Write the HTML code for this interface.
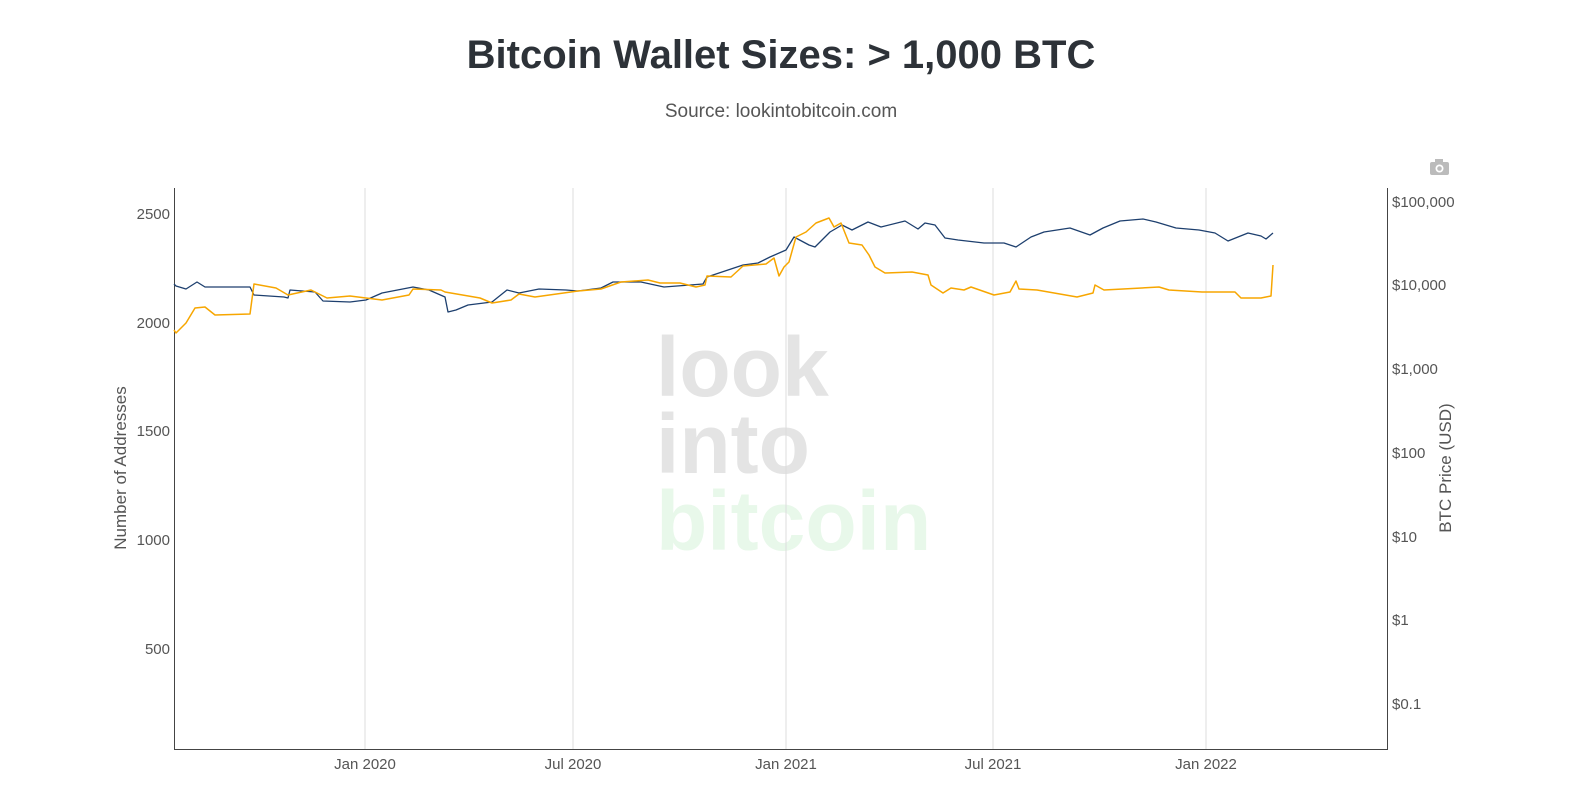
<!DOCTYPE html>
<html><head><meta charset="utf-8"><style>
body{margin:0;background:#fff;width:1583px;height:806px;overflow:hidden}
svg{font-family:"Liberation Sans",sans-serif}
</style></head><body>
<svg width="1583" height="806" viewBox="0 0 1583 806">
<text x="781" y="68" text-anchor="middle" font-size="40" font-weight="bold" fill="#2d3238">Bitcoin Wallet Sizes: &gt; 1,000 BTC</text>
<text x="781" y="117" text-anchor="middle" font-size="19" fill="#555">Source: lookintobitcoin.com</text>
<g font-weight="bold" font-size="84">
<text x="656" y="396" fill="#e4e4e4">look</text>
<text x="656" y="473" fill="#e4e4e4">into</text>
<text x="656" y="550" fill="#e8f8ea">bitcoin</text>
</g>
<g stroke="#ddd" stroke-width="1">
<line x1="365" y1="188" x2="365" y2="750"/><line x1="573" y1="188" x2="573" y2="750"/>
<line x1="786" y1="188" x2="786" y2="750"/><line x1="993" y1="188" x2="993" y2="750"/>
<line x1="1206" y1="188" x2="1206" y2="750"/>
</g>
<g stroke="#444" stroke-width="1">
<line x1="174.5" y1="188" x2="174.5" y2="750"/><line x1="174" y1="749.5" x2="1388" y2="749.5"/>
<line x1="1387.5" y1="188" x2="1387.5" y2="750"/>
</g>
<g font-size="15" fill="#555" text-anchor="end">
<text x="170" y="219">2500</text><text x="170" y="328">2000</text><text x="170" y="436">1500</text>
<text x="170" y="545">1000</text><text x="170" y="654">500</text>
</g>
<g font-size="15" fill="#555">
<text x="1392" y="207">$100,000</text><text x="1392" y="290">$10,000</text><text x="1392" y="374">$1,000</text>
<text x="1392" y="458">$100</text><text x="1392" y="542">$10</text><text x="1392" y="625">$1</text><text x="1392" y="709">$0.1</text>
</g>
<g font-size="15" fill="#555" text-anchor="middle">
<text x="365" y="769">Jan 2020</text><text x="573" y="769">Jul 2020</text><text x="786" y="769">Jan 2021</text>
<text x="993" y="769">Jul 2021</text><text x="1206" y="769">Jan 2022</text>
</g>
<text transform="translate(126,468) rotate(-90)" text-anchor="middle" font-size="17" fill="#555">Number of Addresses</text>
<text transform="translate(1451,468) rotate(-90)" text-anchor="middle" font-size="17" fill="#555">BTC Price (USD)</text>
<g fill="#bbb"><rect x="1430" y="162" width="19" height="13" rx="2"/><rect x="1435" y="159" width="8" height="4"/><circle cx="1439.5" cy="168.5" r="4" fill="#fff"/><circle cx="1439.5" cy="168.5" r="2.3"/></g>
<polyline fill="none" stroke="#1d3f6e" stroke-width="1.3" stroke-linejoin="round" points="174,284 176,286 186,289 197,282 205,287 229,287 250,287 254,295 284,297 288,298 290,290 315,292 323,301 350,302 366,300 382,293 413,287 429,290 445,297 448,312 456,310 468,305 492,302 507,290 519,293 539,289 566,290 578,291 601,288 613,282 641,282 664,287 703,284 707,277 743,265 758,263 770,257 786,250 794,237 809,245 815,247 830,232 842,225 852,230 868,222 881,227 905,221 918,229 925,223 935,225 945,238 958,240 984,243 1004,243 1016,247 1031,237 1044,232 1070,228 1090,235 1103,228 1120,221 1143,219 1156,222 1176,228 1199,230 1215,233 1228,241 1248,233 1261,236 1266,239 1273,233"/>
<polyline fill="none" stroke="#f7a600" stroke-width="1.5" stroke-linejoin="round" points="174,330 176,333 186,323 195,308 205,307 215,315 250,314 254,284 276,288 288,295 311,290 327,298 350,296 382,300 409,295 413,289 441,290 445,292 480,298 492,303 511,300 519,294 535,297 578,291 601,289 621,282 648,280 660,283 680,283 696,287 705,285 707,276 731,277 743,266 766,264 774,258 779,276 784,267 789,262 796,237 806,232 816,223 829,218 834,227 841,223 849,243 862,245 869,255 875,267 885,273 912,272 928,275 931,285 943,293 951,288 964,290 971,287 994,295 1010,292 1016,281 1019,289 1037,290 1077,297 1093,293 1095,285 1104,290 1123,289 1159,287 1169,290 1202,292 1235,292 1241,298 1261,298 1271,296 1273,265"/>
</svg>
</body></html>
